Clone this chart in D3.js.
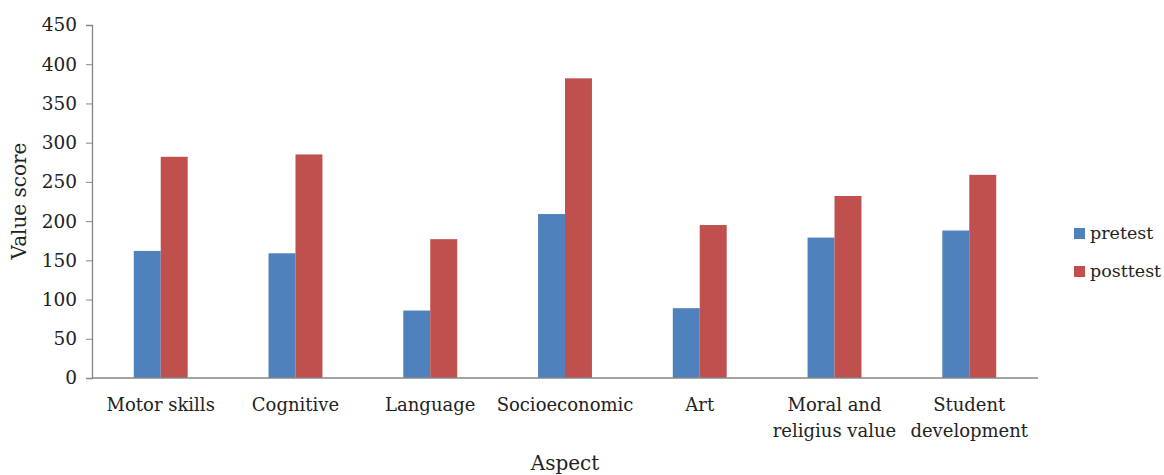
<!DOCTYPE html>
<html>
<head>
<meta charset="utf-8">
<script src="https://cdn.jsdelivr.net/npm/d3@7"></script>
<style>
  body { margin: 0; background: #fff; }
  text { font-family: "DejaVu Serif", serif; fill: #222; }
</style>
</head>
<body>
<svg id="chart" width="1164" height="475"></svg>
<script>
// chart data
const aspects = ["Motor skills", "Cognitive", "Language", "Socioeconomic", "Art", "Moral and\nreligius value", "Student\ndevelopment"];
const seriesNames = ["pretest", "posttest"];
const pretest = [162, 159, 86, 209, 89, 179, 188];
const posttest = [282, 285, 177, 382, 195, 232, 259];
const yTicks = [0, 50, 100, 150, 200, 250, 300, 350, 400, 450];
const colors = ["#4f81bd", "#c0504d"];

const svg = d3.select("#chart");
const margin = {left: 92, right: 126, top: 25, bottom: 97};
const width = 1164 - margin.left - margin.right;
const height = 475 - margin.top - margin.bottom;

const g = svg.append("g").attr("transform", `translate(${margin.left},${margin.top})`);

const x0 = d3.scaleBand().domain(aspects).range([0, width]).paddingInner(0.6).paddingOuter(0.31);
const x1 = d3.scaleBand().domain(seriesNames).range([0, x0.bandwidth()]);
const y = d3.scaleLinear().domain([0, 450]).range([height, 0]);

// bars
const groups = g.selectAll(".grp")
  .data(aspects)
  .enter().append("g")
  .attr("transform", d => `translate(${x0(d)},0)`);

groups.selectAll("rect")
  .data((d, i) => [pretest[i], posttest[i]].map((v, k) => ({key: seriesNames[k], v, k})))
  .enter().append("rect")
  .attr("x", d => x1(d.key))
  .attr("y", d => y(d.v))
  .attr("width", x1.bandwidth())
  .attr("height", d => height - y(d.v))
  .attr("fill", d => colors[d.k]);

// y axis
const yAxis = g.append("g")
  .call(d3.axisLeft(y).tickValues(yTicks).tickSize(6).tickPadding(9));
yAxis.select(".domain").attr("stroke", "#868686").attr("stroke-width", 1.3);
yAxis.selectAll(".tick line").attr("stroke", "#868686");
yAxis.selectAll(".tick text").style("font-size", "18.5px").attr("fill", "#222");

// x axis line
g.append("line")
  .attr("x1", 0).attr("x2", width)
  .attr("y1", height).attr("y2", height)
  .attr("stroke", "#868686").attr("stroke-width", 1.5);

// x labels (multi-line)
aspects.forEach(a => {
  const t = g.append("text")
    .attr("x", x0(a) + x0.bandwidth() / 2)
    .attr("y", height + 33)
    .attr("text-anchor", "middle")
    .style("font-size", "18px");
  a.split("\n").forEach((line, i) => {
    t.append("tspan")
      .attr("x", x0(a) + x0.bandwidth() / 2)
      .attr("dy", i === 0 ? 0 : 26)
      .text(line);
  });
});

// axis titles
svg.append("text")
  .attr("x", margin.left + width / 2)
  .attr("y", 470)
  .attr("text-anchor", "middle")
  .style("font-size", "20px")
  .text("Aspect");

svg.append("text")
  .attr("transform", "translate(26,201) rotate(-90)")
  .attr("text-anchor", "middle")
  .style("font-size", "20px")
  .text("Value score");

// legend
const legend = svg.append("g").attr("transform", "translate(1074,228)");
seriesNames.forEach((s, i) => {
  legend.append("rect")
    .attr("x", 0).attr("y", i * 38)
    .attr("width", 11).attr("height", 11)
    .attr("fill", colors[i]);
  legend.append("text")
    .attr("x", 16).attr("y", i * 38 + 11)
    .style("font-size", "17.5px")
    .attr("fill", "#555")
    .text(s);
});
</script>
</body>
</html>
